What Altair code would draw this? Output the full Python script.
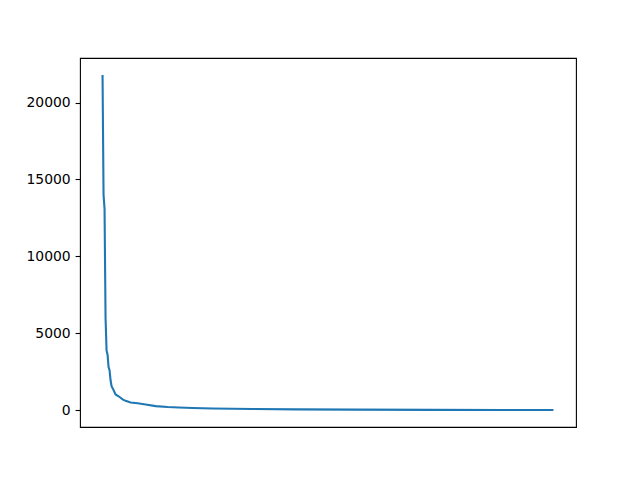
import altair as alt
import pandas as pd

ranks = [0, 1, 2, 3, 4, 5, 6, 7, 8, 9, 11, 13, 16, 18, 20, 23, 28, 35, 43, 53,
         65, 76, 90, 110, 130, 150, 193, 250, 330, 400, 450]
counts = [21800, 14000, 13100, 6000, 3880, 3600, 2800, 2600, 1940, 1550, 1300,
          1014, 900, 800, 700, 600, 496, 440, 366, 259, 200, 172, 140, 108, 90,
          75, 45, 30, 15, 8, 2]
y_ticks = [0, 5000, 10000, 15000, 20000]

df = pd.DataFrame({"rank": ranks, "count": counts})

chart = alt.Chart(df).mark_line(color="#1f77b4", strokeWidth=2.1).encode(
    x=alt.X("rank:Q", scale=alt.Scale(domain=[-22.5, 472.5], nice=False, zero=False), axis=None),
    y=alt.Y("count:Q", scale=alt.Scale(domain=[-1100, 22900], nice=False, zero=False),
            axis=alt.Axis(values=y_ticks, title=None, grid=False, domain=False,
                          labelFont="DejaVu Sans", labelFontSize=13.9, labelColor="black",
                          tickColor="black", tickSize=4.9, tickWidth=1.1, labelPadding=4.9,
                          format="d")),
).properties(
    width=496, height=369,
    autosize=alt.AutoSizeParams(type="none"),
    padding={"left": 72, "top": 50, "right": 56, "bottom": 45},
    background="white",
).configure_view(stroke="black", strokeWidth=1.1)

chart.save("out.html", embed_options={"renderer": "svg", "actions": False})
